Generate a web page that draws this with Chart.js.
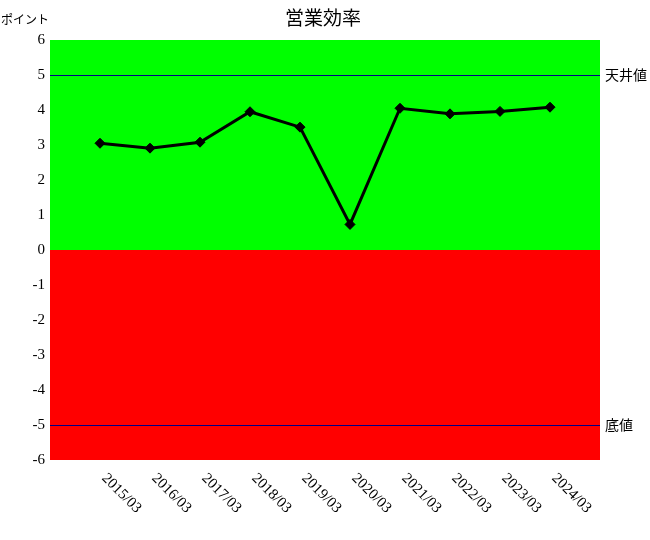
<!DOCTYPE html>
<html>
<head>
<meta charset="utf-8">
<script src="https://cdn.jsdelivr.net/npm/chart.js@4"></script>
<style>
  html, body { margin: 0; padding: 0; background: #fff; }
  #wrap { width: 650px; height: 540px; }
</style>
</head>
<body>
<div id="wrap"><canvas id="effChart"></canvas></div>
<script>
// data
const periods = ['2015/03', '2016/03', '2017/03', '2018/03', '2019/03', '2020/03', '2021/03', '2022/03', '2023/03', '2024/03'];
const efficiency = [3.05, 2.91, 3.08, 3.95, 3.51, 0.73, 4.05, 3.89, 3.96, 4.08];
const ceilingValue = 5;
const floorValue = -5;
const yTicks = [6, 5, 4, 3, 2, 1, 0, -1, -2, -3, -4, -5, -6];

const jpFont = '"Noto Sans CJK JP", "Noto Sans", sans-serif';
const serifFont = '"Liberation Serif", "DejaVu Serif", serif';

// background bands, threshold lines, title and labels
const decorPlugin = {
    id: 'decor',
    beforeDatasetsDraw(chart) {
        const { ctx, chartArea: a, scales: { y } } = chart;
        const zero = y.getPixelForValue(0);
        ctx.save();
        ctx.fillStyle = '#00ff00';
        ctx.fillRect(a.left, a.top, a.right - a.left, zero - a.top);
        ctx.fillStyle = '#ff0000';
        ctx.fillRect(a.left, zero, a.right - a.left, a.bottom - zero);

        ctx.strokeStyle = '#000088';
        ctx.lineWidth = 1;
        [ceilingValue, floorValue].forEach(v => {
            const py = Math.round(y.getPixelForValue(v)) + 0.5;
            ctx.beginPath();
            ctx.moveTo(a.left, py);
            ctx.lineTo(a.right, py);
            ctx.stroke();
        });
        ctx.restore();
    },
    afterDraw(chart) {
        const { ctx, chartArea: a, scales: { x, y } } = chart;
        ctx.save();
        ctx.fillStyle = '#000';

        ctx.font = '19px ' + jpFont;
        ctx.textAlign = 'center';
        ctx.textBaseline = 'middle';
        ctx.fillText('営業効率', 323, 18);

        ctx.font = '12px ' + jpFont;
        ctx.textAlign = 'left';
        ctx.fillText('ポイント', 1, 19);

        ctx.font = '14px ' + jpFont;
        ctx.fillText('天井値', a.right + 5, y.getPixelForValue(ceilingValue));
        ctx.fillText('底値', a.right + 5, y.getPixelForValue(floorValue));

        ctx.font = '15px ' + serifFont;
        periods.forEach((p, i) => {
            const px = x.getPixelForValue(i + 1);
            ctx.save();
            ctx.translate(px + 4, a.bottom + 16);
            ctx.rotate(Math.PI / 4);
            ctx.textAlign = 'left';
            ctx.textBaseline = 'middle';
            ctx.fillText(p, 0, 0);
            ctx.restore();
        });
        ctx.restore();
    }
};

new Chart(document.getElementById('effChart').getContext('2d'), {
    type: 'line',
    data: {
        datasets: [{
            label: '営業効率',
            data: efficiency.map((v, i) => ({ x: i + 1, y: v })),
            borderColor: '#000',
            backgroundColor: '#000',
            borderWidth: 3,
            pointStyle: 'rectRot',
            pointRadius: 5,
            pointBorderWidth: 1,
            tension: 0
        }]
    },
    options: {
        responsive: true,
        maintainAspectRatio: false,
        animation: false,
        layout: { padding: { top: 40, right: 50, bottom: 80, left: 0 } },
        plugins: {
            legend: { display: false },
            tooltip: { enabled: false }
        },
        scales: {
            x: {
                type: 'linear',
                min: 0,
                max: periods.length + 1,
                afterFit(scale) { scale.height = 0; },
                grid: { display: false },
                border: { display: false },
                ticks: { display: false }
            },
            y: {
                min: -6,
                max: 6,
                afterFit(scale) { scale.width = 50; },
                afterBuildTicks(scale) { scale.ticks = yTicks.map(v => ({ value: v })); },
                grid: { display: false, drawTicks: false },
                border: { display: false },
                ticks: {
                    padding: 5,
                    color: '#000',
                    font: { family: serifFont, size: 15 }
                }
            }
        }
    },
    plugins: [decorPlugin]
});
</script>
</body>
</html>
